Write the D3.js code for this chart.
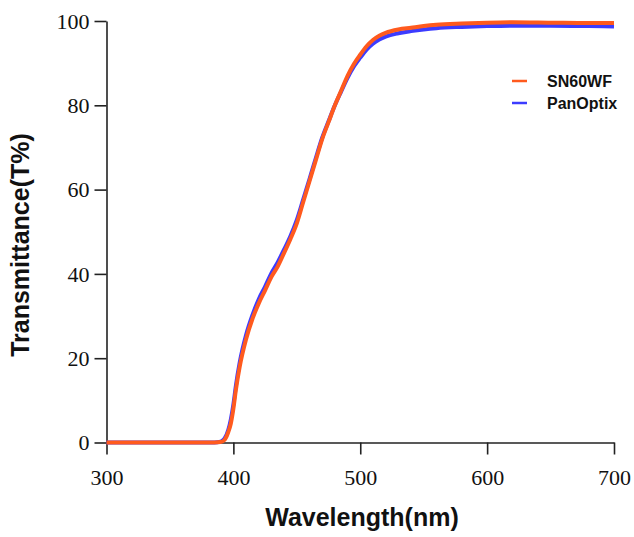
<html>
  <head>
    <script src="https://d3js.org/d3.v7.min.js" charset="utf-8"></script>
    <style>
      body { margin: 0; background: #fff; }
    </style>
  </head>
  <body>
    <script>
      var w = 634;
      var h = 537;

      // wavelength (nm) sample points
      var wavelengths = [300, 350, 385, 390, 393, 396, 398, 400, 402, 405, 410, 415, 420, 425, 430, 435, 440, 445, 450, 455, 460, 465, 470, 475, 480, 485, 490, 495, 500, 505, 510, 515, 520, 530, 540, 550, 560, 580, 600, 620, 650, 680, 700];
      // transmittance (%) for each lens
      var sn60wf = [0, 0, 0, 0.1, 0.6, 2.5, 4.5, 8, 12.5, 18, 24.5, 29.3, 33, 36.1, 39.3, 41.8, 45, 48.3, 52, 57, 62, 67, 72, 76, 80, 83.5, 87, 89.8, 92, 94, 95.5, 96.5, 97.2, 98, 98.4, 98.8, 99.1, 99.4, 99.6, 99.7, 99.6, 99.5, 99.5];
      var panoptix = [0, 0, 0, 0.2, 0.9, 3, 5.5, 9, 13.5, 19, 25.5, 30.2, 34, 37, 40.2, 42.8, 45.8, 49, 52.8, 57.6, 62.5, 67.5, 72.3, 76.2, 80, 83.3, 86.5, 89.2, 91.3, 93.2, 94.6, 95.6, 96.3, 97.1, 97.6, 98, 98.3, 98.6, 98.8, 98.9, 98.9, 98.8, 98.7];
      var xTicks = [300, 400, 500, 600, 700];
      var yTicks = [0, 20, 40, 60, 80, 100];
      var seriesNames = ["SN60WF", "PanOptix"];
      var seriesColors = ["#ff5a1e", "#3c3cff"];

      var svg = d3.select("body")
      .append("svg")
      .attr("width", w)
      .attr("height", h);

      var x = d3.scaleLinear().domain([300, 700]).range([106.5, 614]);
      var y = d3.scaleLinear().domain([0, 100]).range([442.5, 21]);

      // axes
      var xAxis = svg.append("g")
      .attr("transform", "translate(0," + y(0) + ")")
      .call(d3.axisBottom(x).tickValues(xTicks).tickSize(12).tickPadding(15).tickSizeOuter(0));
      var yAxis = svg.append("g")
      .attr("transform", "translate(" + x(300) + ",0)")
      .call(d3.axisLeft(y).tickValues(yTicks).tickSize(12).tickPadding(5).tickSizeOuter(0));

      [xAxis, yAxis].forEach(function(a){
        a.select(".domain").attr("stroke", "#222").attr("stroke-width", 1.6);
        a.selectAll(".tick line").attr("stroke", "#222").attr("stroke-width", 1.6);
        a.selectAll(".tick text")
        .attr("font-family", "'Liberation Serif', 'Times New Roman', serif")
        .attr("font-size", 22)
        .attr("fill", "#111");
      });
      xAxis.selectAll(".tick text").attr("dy", "0.71em");
      yAxis.selectAll(".tick text").attr("dy", "0.33em");

      // lines
      var series = [panoptix, sn60wf];
      var colors = [seriesColors[1], seriesColors[0]];
      var line = d3.line()
      .x(function(d, i){ return x(wavelengths[i]); })
      .y(function(d){ return y(d); })
      .curve(d3.curveMonotoneX);

      svg.selectAll(".curve")
      .data(series)
      .enter()
      .append("path")
      .attr("class", "curve")
      .attr("d", line)
      .attr("fill", "none")
      .attr("stroke", function(d, i){ return colors[i]; })
      .attr("stroke-width", 4)
      .attr("stroke-linejoin", "round");

      // legend
      var legend = svg.selectAll(".legend")
      .data(seriesNames)
      .enter()
      .append("g")
      .attr("class", "legend")
      .attr("transform", function(d, i){ return "translate(512," + (81 + i * 22) + ")"; });
      legend.append("line")
      .attr("x1", 0).attr("x2", 15)
      .attr("stroke", function(d, i){ return seriesColors[i]; })
      .attr("stroke-width", 2.5);
      legend.append("text")
      .attr("x", 35)
      .attr("y", 6)
      .text(function(d){ return d; })
      .attr("font-family", "'Liberation Sans', Arial, sans-serif")
      .attr("font-weight", "bold")
      .attr("font-size", 16)
      .attr("fill", "#111");

      // axis titles
      svg.append("text")
      .attr("x", 362)
      .attr("y", 526)
      .attr("text-anchor", "middle")
      .text("Wavelength(nm)")
      .attr("font-family", "'Liberation Sans', Arial, sans-serif")
      .attr("font-weight", "bold")
      .attr("font-size", 25)
      .attr("fill", "#111");

      svg.append("text")
      .attr("transform", "translate(29,245) rotate(-90)")
      .attr("text-anchor", "middle")
      .text("Transmittance(T%)")
      .attr("font-family", "'Liberation Sans', Arial, sans-serif")
      .attr("font-weight", "bold")
      .attr("font-size", 25)
      .attr("fill", "#111");
    </script>
  </body>
</html>
